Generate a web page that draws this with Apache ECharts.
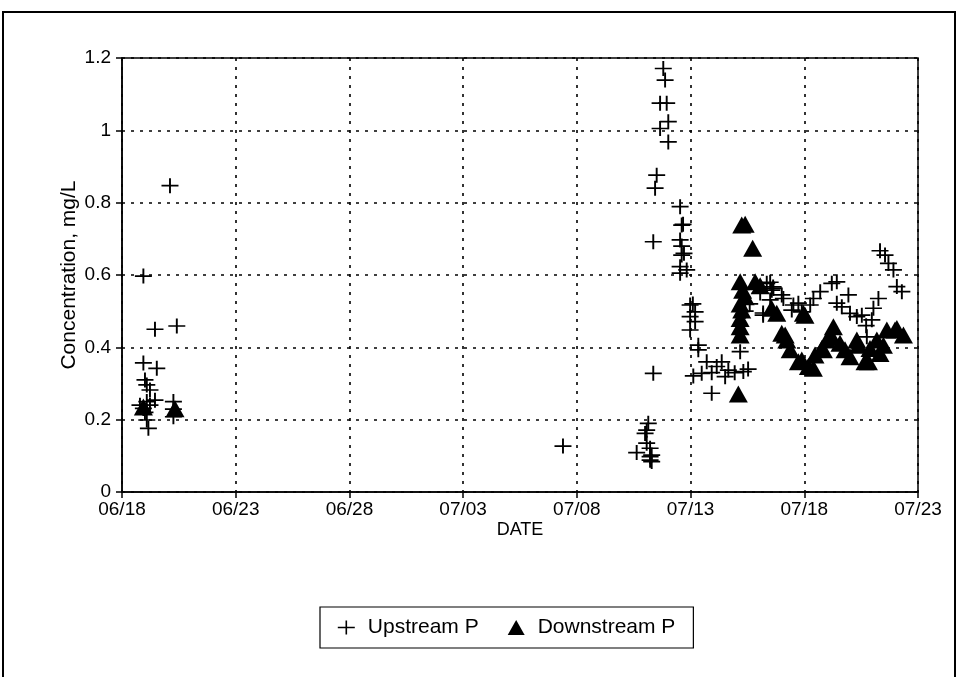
<!DOCTYPE html>
<html>
<head>
<meta charset="utf-8">
<script src="https://cdn.jsdelivr.net/npm/echarts@6/dist/echarts.min.js"></script>
<style>
html,body{margin:0;padding:0;background:#fff;}
#chart{width:958px;height:677px;}
</style>
</head>
<body>
<div id="chart"></div>
<script>
// x values are days after 06/18
var xTickLabels = ['06/18','06/23','06/28','07/03','07/08','07/13','07/18','07/23'];
var yTickValues = [0, 0.2, 0.4, 0.6, 0.8, 1, 1.2];

var upstreamDay = [
  0.94,2.11,1.45,2.41,0.94,1.53,1.01,1.09,1.23,1.09,0.94,0.79,1.45,2.26,2.26,2.26,1.09,1.16,1.23,1.01,
  19.39,
  22.63,23.00,23.07,23.14,23.22,23.29,23.22,23.07,23.22,23.29,
  23.36,23.36,23.44,23.51,23.66,24.02,23.66,23.95,23.80,23.88,24.02,
  24.54,24.61,24.67,24.54,24.61,24.61,24.54,24.54,24.83,24.71,
  24.98,25.20,24.98,25.20,24.98,25.34,25.34,25.10,
  25.71,26.37,26.15,26.66,25.49,25.12,26.94,27.32,26.52,25.93,27.18,25.93,27.53,
  28.19,28.63,28.50,28.57,28.50,28.35,28.64,29.01,29.08,29.52,29.74,29.45,29.89,30.26,28.19,28.06,27.40,27.60,
  30.40,30.70,31.21,31.43,31.94,31.43,31.65,32.01,32.31,32.53,32.97,33.04,33.26,32.75,33.33,33.55,33.70,33.92,34.07,34.29,32.72
];
var upstreamP = [
  0.597,0.847,0.450,0.459,0.357,0.342,0.310,0.296,0.282,0.250,0.231,0.240,0.254,0.250,0.229,0.208,0.199,0.176,0.240,0.220,
  0.127,
  0.109,0.162,0.135,0.190,0.121,0.102,0.088,0.171,0.098,0.084,
  0.328,0.692,0.840,0.876,1.005,1.024,1.075,1.075,1.171,1.139,0.968,
  0.789,0.738,0.740,0.697,0.680,0.655,0.623,0.605,0.614,0.660,
  0.517,0.498,0.485,0.471,0.448,0.406,0.393,0.520,
  0.360,0.360,0.347,0.337,0.328,0.321,0.330,0.333,0.319,0.273,0.388,0.330,0.340,
  0.495,0.567,0.580,0.558,0.531,0.577,0.563,0.545,0.535,0.517,0.522,0.503,0.498,0.517,0.489,0.550,0.500,0.520,
  0.535,0.554,0.577,0.581,0.545,0.522,0.512,0.494,0.485,0.489,0.476,0.508,0.535,0.429,0.667,0.655,0.632,0.614,0.568,0.554,0.460
];

var downstreamDay = [
  0.94,2.33,
  27.10,27.25,27.40,27.73,27.18,27.84,27.29,27.18,27.25,27.18,27.18,27.18,27.40,28.06,
  28.56,28.79,29.01,29.23,29.38,29.74,29.89,30.18,30.40,29.96,30.03,29.16,
  30.47,30.77,30.84,30.99,31.21,31.28,31.57,31.79,32.01,32.31,32.38,32.67,32.82,32.89,33.19,33.33,33.48,33.63,33.99,34.07,34.36
];
var downstreamP = [
  0.235,0.230,
  0.271,0.738,0.740,0.674,0.581,0.581,0.558,0.520,0.503,0.480,0.457,0.434,0.540,0.570,
  0.508,0.494,0.439,0.420,0.393,0.360,0.365,0.347,0.342,0.494,0.489,0.434,
  0.379,0.397,0.393,0.420,0.429,0.457,0.411,0.393,0.374,0.420,0.406,0.360,0.360,0.397,0.420,0.383,0.406,0.448,0.448,0.452,0.434
];

function pairs(xs, ys){ var out=[]; for(var i=0;i<xs.length;i++){ out.push([xs[i], ys[i]]); } return out; }

var crossPath = 'path://M0,7L17,7M8.5,0L8.5,14';
var FONT = 'Liberation Sans, Arial, sans-serif';

var chart = echarts.init(document.getElementById('chart'), null, {renderer:'canvas'});
chart.setOption({
  backgroundColor:'#fff',
  animation:false,
  graphic:[{
    type:'rect', shape:{x:3, y:12, width:952, height:700},
    style:{fill:'none', stroke:'#000', lineWidth:2}, silent:true, z:-1
  }],
  grid:{left:122, top:58, right:40, bottom:185, show:true, borderColor:'#000', borderWidth:1.5, backgroundColor:'transparent'},
  legend:{
    left:320, top:607,
    padding:[10,18,10,17],
    borderColor:'#000', borderWidth:1.2, borderRadius:0,
    itemGap:29, itemWidth:17, itemHeight:15,
    textStyle:{fontFamily:FONT, fontSize:21, color:'#000', padding:[0,0,0,8]},
    data:[
      {name:'Upstream P', icon:crossPath, itemStyle:{color:'transparent', borderColor:'#000', borderWidth:1.6, opacity:1}},
      {name:'Downstream P', icon:'triangle', itemStyle:{color:'#000', opacity:1}}
    ]
  },
  xAxis:{
    type:'value', min:0, max:35, interval:5,
    name:'DATE', nameLocation:'middle', nameGap:29, nameMoveOverlap:false,
    nameTextStyle:{fontFamily:FONT, fontSize:18, color:'#000'},
    axisLine:{show:true, lineStyle:{color:'#000', width:1.5}},
    axisTick:{show:true, length:6, lineStyle:{color:'#000', width:1.5}},
    axisLabel:{fontFamily:FONT, fontSize:19, color:'#000', margin:8,
      formatter:function(v){ return xTickLabels[Math.round(v/5)]; }},
    splitLine:{show:true, lineStyle:{color:'#000', type:[3,6], width:1.6}}
  },
  yAxis:{
    type:'value', min:0, max:1.2, interval:0.2,
    name:'Concentration, mg/L', nameLocation:'middle', nameGap:42, nameMoveOverlap:false,
    nameTextStyle:{fontFamily:FONT, fontSize:21, color:'#000'},
    axisLine:{show:true, lineStyle:{color:'#000', width:1.5}},
    axisTick:{show:true, length:6, lineStyle:{color:'#000', width:1.5}},
    axisLabel:{fontFamily:FONT, fontSize:19, color:'#000', margin:11,
      formatter:function(v){ var r=Math.round(v*10)/10; return yTickValues.indexOf(r)>=0 ? String(r) : ''; }},
    splitLine:{show:true, lineStyle:{color:'#000', type:[3,6], width:1.6}}
  },
  series:[
    {
      name:'Upstream P', type:'scatter', data:pairs(upstreamDay, upstreamP),
      symbol:crossPath, symbolSize:[17,15], symbolKeepAspect:false,
      itemStyle:{color:'transparent', borderColor:'#000', borderWidth:1.8, opacity:1}, z:3
    },
    {
      name:'Downstream P', type:'scatter', data:pairs(downstreamDay, downstreamP),
      symbol:'triangle', symbolSize:[19,17],
      itemStyle:{color:'#000', opacity:1}, z:2
    }
  ]
});
</script>
</body>
</html>
